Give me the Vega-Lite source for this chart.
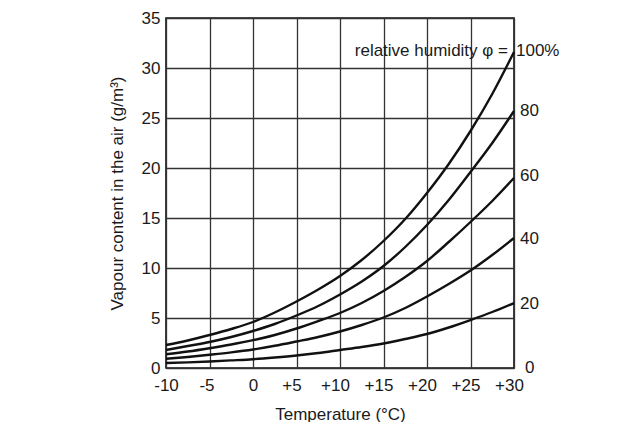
{
  "$schema": "https://vega.github.io/schema/vega-lite/v6.json",
  "width": 348,
  "height": 350,
  "autosize": "none",
  "padding": {"left": 166, "top": 18, "right": 126, "bottom": 54},
  "background": "white",
  "config": {
    "font": "Liberation Sans",
    "view": {"stroke": "#111", "strokeWidth": 1.6},
    "axis": {
      "labelFont": "Liberation Sans",
      "titleFont": "Liberation Sans",
      "labelFontSize": 17,
      "titleFontSize": 17,
      "labelColor": "#1a1a1a",
      "titleColor": "#1a1a1a",
      "titleFontWeight": "normal",
      "ticks": false,
      "domain": false,
      "labelFlush": false,
      "gridColor": "#333",
      "gridOpacity": 1,
      "gridWidth": 1.3
    }
  },
  "datasets": {
    "curves": [
      {"T": -10, "rh": 100, "v": 2.3}, {"T": -7.5, "rh": 100, "v": 2.75}, {"T": -5, "rh": 100, "v": 3.3}, {"T": -2.5, "rh": 100, "v": 3.9}, {"T": 0, "rh": 100, "v": 4.6}, {"T": 2.5, "rh": 100, "v": 5.55}, {"T": 5, "rh": 100, "v": 6.65}, {"T": 7.5, "rh": 100, "v": 7.85}, {"T": 10, "rh": 100, "v": 9.2}, {"T": 12.5, "rh": 100, "v": 10.8}, {"T": 15, "rh": 100, "v": 12.7}, {"T": 17.5, "rh": 100, "v": 14.9}, {"T": 20, "rh": 100, "v": 17.5}, {"T": 22.5, "rh": 100, "v": 20.4}, {"T": 25, "rh": 100, "v": 23.7}, {"T": 27.5, "rh": 100, "v": 27.4}, {"T": 30, "rh": 100, "v": 31.6},
      {"T": -10, "rh": 80, "v": 1.8}, {"T": -7.5, "rh": 80, "v": 2.2}, {"T": -5, "rh": 80, "v": 2.6}, {"T": -2.5, "rh": 80, "v": 3.1}, {"T": 0, "rh": 80, "v": 3.7}, {"T": 2.5, "rh": 80, "v": 4.4}, {"T": 5, "rh": 80, "v": 5.25}, {"T": 7.5, "rh": 80, "v": 6.2}, {"T": 10, "rh": 80, "v": 7.35}, {"T": 12.5, "rh": 80, "v": 8.65}, {"T": 15, "rh": 80, "v": 10.2}, {"T": 17.5, "rh": 80, "v": 12.1}, {"T": 20, "rh": 80, "v": 14.3}, {"T": 22.5, "rh": 80, "v": 16.8}, {"T": 25, "rh": 80, "v": 19.6}, {"T": 27.5, "rh": 80, "v": 22.5}, {"T": 30, "rh": 80, "v": 25.7},
      {"T": -10, "rh": 60, "v": 1.38}, {"T": -7.5, "rh": 60, "v": 1.65}, {"T": -5, "rh": 60, "v": 1.98}, {"T": -2.5, "rh": 60, "v": 2.35}, {"T": 0, "rh": 60, "v": 2.78}, {"T": 2.5, "rh": 60, "v": 3.3}, {"T": 5, "rh": 60, "v": 3.95}, {"T": 7.5, "rh": 60, "v": 4.7}, {"T": 10, "rh": 60, "v": 5.5}, {"T": 12.5, "rh": 60, "v": 6.5}, {"T": 15, "rh": 60, "v": 7.7}, {"T": 17.5, "rh": 60, "v": 9.1}, {"T": 20, "rh": 60, "v": 10.7}, {"T": 22.5, "rh": 60, "v": 12.6}, {"T": 25, "rh": 60, "v": 14.6}, {"T": 27.5, "rh": 60, "v": 16.7}, {"T": 30, "rh": 60, "v": 19.0},
      {"T": -10, "rh": 40, "v": 0.92}, {"T": -7.5, "rh": 40, "v": 1.1}, {"T": -5, "rh": 40, "v": 1.32}, {"T": -2.5, "rh": 40, "v": 1.56}, {"T": 0, "rh": 40, "v": 1.85}, {"T": 2.5, "rh": 40, "v": 2.22}, {"T": 5, "rh": 40, "v": 2.65}, {"T": 7.5, "rh": 40, "v": 3.1}, {"T": 10, "rh": 40, "v": 3.65}, {"T": 12.5, "rh": 40, "v": 4.3}, {"T": 15, "rh": 40, "v": 5.05}, {"T": 17.5, "rh": 40, "v": 6.0}, {"T": 20, "rh": 40, "v": 7.15}, {"T": 22.5, "rh": 40, "v": 8.4}, {"T": 25, "rh": 40, "v": 9.75}, {"T": 27.5, "rh": 40, "v": 11.3}, {"T": 30, "rh": 40, "v": 13.0},
      {"T": -10, "rh": 20, "v": 0.5}, {"T": -7.5, "rh": 20, "v": 0.56}, {"T": -5, "rh": 20, "v": 0.65}, {"T": -2.5, "rh": 20, "v": 0.76}, {"T": 0, "rh": 20, "v": 0.88}, {"T": 2.5, "rh": 20, "v": 1.05}, {"T": 5, "rh": 20, "v": 1.25}, {"T": 7.5, "rh": 20, "v": 1.5}, {"T": 10, "rh": 20, "v": 1.8}, {"T": 12.5, "rh": 20, "v": 2.1}, {"T": 15, "rh": 20, "v": 2.45}, {"T": 17.5, "rh": 20, "v": 2.9}, {"T": 20, "rh": 20, "v": 3.4}, {"T": 22.5, "rh": 20, "v": 4.05}, {"T": 25, "rh": 20, "v": 4.8}, {"T": 27.5, "rh": 20, "v": 5.6}, {"T": 30, "rh": 20, "v": 6.5}
    ],
    "endLabels": [
      {"T": 30, "v": 25.7, "label": "80"},
      {"T": 30, "v": 19.2, "label": "60"},
      {"T": 30, "v": 12.9, "label": "40"},
      {"T": 30, "v": 6.4, "label": "20"}
    ],
    "zeroLabel": [
      {"T": 30, "v": 0, "label": "0"}
    ],
    "topLabel": [
      {"T": 30, "v": 31.75, "label": "100%"}
    ],
    "caption": [
      {"T": 30, "v": 31.75, "label": "relative humidity φ ="}
    ]
  },
  "layer": [
    {
      "data": {"name": "curves"},
      "mark": {"type": "line", "interpolate": "monotone", "color": "#111", "strokeWidth": 2.4},
      "encoding": {
        "x": {
          "field": "T", "type": "quantitative",
          "scale": {"domain": [-10, 30], "nice": false, "zero": false},
          "axis": {
            "values": [-10, -5, 0, 5, 10, 15, 20, 25, 30],
            "labelExpr": "datum.value > 0 ? '+' + datum.value : '' + datum.value",
            "labelPadding": 9,
            "labelOffset": {
              "condition": [
                {"test": "datum.value > 0", "value": -5},
                {"test": "datum.value == -5", "value": -3}
              ],
              "value": 0
            },
            "title": "Temperature (°C)",
            "titlePadding": 13
          }
        },
        "y": {
          "field": "v", "type": "quantitative",
          "scale": {"domain": [0, 35], "nice": false},
          "axis": {
            "values": [0, 5, 10, 15, 20, 25, 30, 35],
            "labelPadding": 6,
            "title": "Vapour content in the air (g/m³)",
            "titlePadding": 15
          }
        },
        "detail": {"field": "rh", "type": "nominal"}
      }
    },
    {
      "data": {"name": "endLabels"},
      "mark": {"type": "text", "align": "left", "baseline": "middle", "dx": 6, "fontSize": 17, "color": "#1a1a1a"},
      "encoding": {
        "x": {"field": "T", "type": "quantitative"},
        "y": {"field": "v", "type": "quantitative"},
        "text": {"field": "label"}
      }
    },
    {
      "data": {"name": "zeroLabel"},
      "mark": {"type": "text", "align": "left", "baseline": "middle", "dx": 11, "fontSize": 17, "color": "#1a1a1a"},
      "encoding": {
        "x": {"field": "T", "type": "quantitative"},
        "y": {"field": "v", "type": "quantitative"},
        "text": {"field": "label"}
      }
    },
    {
      "data": {"name": "topLabel"},
      "mark": {"type": "text", "align": "left", "baseline": "middle", "dx": 2, "fontSize": 17, "color": "#1a1a1a"},
      "encoding": {
        "x": {"field": "T", "type": "quantitative"},
        "y": {"field": "v", "type": "quantitative"},
        "text": {"field": "label"}
      }
    },
    {
      "data": {"name": "caption"},
      "mark": {"type": "text", "align": "right", "baseline": "middle", "dx": -6, "fontSize": 17, "color": "#1a1a1a"},
      "encoding": {
        "x": {"field": "T", "type": "quantitative"},
        "y": {"field": "v", "type": "quantitative"},
        "text": {"field": "label"}
      }
    }
  ]
}
